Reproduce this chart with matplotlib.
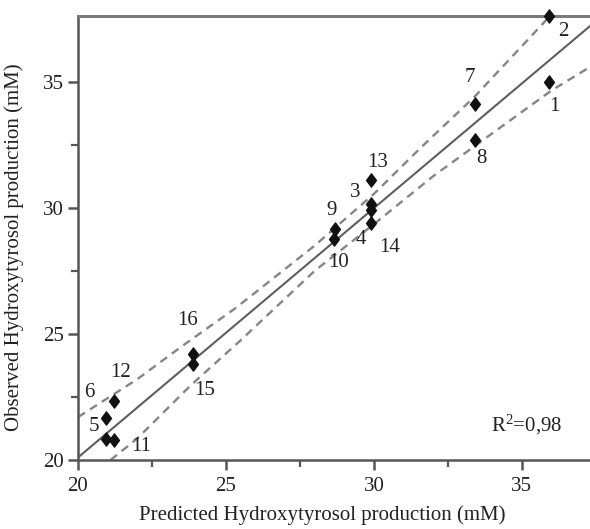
import numpy as np
import matplotlib
matplotlib.use("Agg")
import matplotlib.pyplot as plt
from matplotlib.path import Path

plt.rcParams['font.family'] = ['Liberation Serif', 'DejaVu Serif']
plt.rcParams['mathtext.fontset'] = 'custom'
plt.rcParams['mathtext.rm'] = 'Liberation Serif'
plt.rcParams['mathtext.it'] = 'Liberation Serif:italic'

# experiments: predicted vs observed hydroxytyrosol (mM)
run_ids = [1, 2, 3, 4, 5, 6, 7, 8, 9, 10, 11, 12, 13, 14, 15, 16]
predicted = [35.9, 35.9, 29.9, 29.9, 20.95, 20.95, 33.4, 33.4, 28.7, 28.65,
             21.2, 21.2, 29.9, 29.9, 23.9, 23.9]
observed = [35.0, 37.6, 30.15, 29.9, 20.85, 21.65, 34.1, 32.7, 29.15, 28.75,
            20.8, 22.35, 31.1, 29.4, 23.8, 24.2]

# regression line and confidence bands
fit_x = [20.0, 37.4]
fit_y = [20.1, 37.3]
upper_x = [20.0, 22.0, 23.5, 25.3, 28.0, 30.0, 31.6, 33.4, 35.75, 36.0]
upper_y = [21.7, 23.2, 24.5, 26.0, 28.5, 30.55, 32.4, 34.4, 37.35, 37.7]
lower_x = [21.1, 22.0, 23.8, 25.5, 28.0, 30.0, 32.0, 34.0, 36.0, 37.4]
lower_y = [20.0, 20.85, 22.95, 24.75, 27.5, 29.35, 31.25, 32.95, 34.65, 35.65]

# label offsets in pixels (dx, dy), dy positive = up
label_offsets = {
    1: (6, -25), 2: (15, -16), 3: (-16, 11), 4: (-10, -29), 5: (-12, 12),
    6: (-17, 26), 7: (-5, 27), 8: (7, -19), 9: (-4, 19), 10: (5, -23),
    11: (28, -7), 12: (7, 28), 13: (7, 17), 14: (19, -25), 15: (11, -26),
    16: (-6, 34),
}

fs = 15
fig = plt.figure(figsize=(5.9, 5.29), dpi=100)
ax = fig.add_axes([78 / 590, 69 / 529, 512 / 590, 444 / 529])

ax.plot(fit_x, fit_y, color='#5e5e5e', lw=1.5, zorder=2)
ax.plot(upper_x, upper_y, color='#858585', lw=1.7, ls=(0, (3.5, 2.5)), zorder=2)
ax.plot(lower_x, lower_y, color='#858585', lw=1.7, ls=(0, (3.5, 2.5)), zorder=2)

diamond = Path([(0, 1), (0.75, 0), (0, -1), (-0.75, 0), (0, 1)],
               [Path.MOVETO, Path.LINETO, Path.LINETO, Path.LINETO, Path.CLOSEPOLY])
ax.plot(predicted, observed, ls='none', marker=diamond, ms=9.5,
        color='#111111', zorder=3, clip_on=False)

for rid, px, py in zip(run_ids, predicted, observed):
    dx, dy = label_offsets[rid]
    ax.annotate(str(rid), (px, py), xytext=(dx, dy), textcoords='offset pixels',
                ha='center', va='center', fontsize=fs, color='#222222')

ax.text(0.877, 0.079, r'R$^{2}$=0,98', transform=ax.transAxes,
        ha='center', va='center', fontsize=fs, color='#222222')

ax.set_xlim(20, 37.3)
ax.set_ylim(20, 37.6)
ax.set_xticks([20, 25, 30, 35])
ax.set_yticks([20, 25, 30, 35])
ax.set_xticks([22.5, 27.5, 32.5], minor=True)
ax.set_yticks([22.5, 27.5, 32.5], minor=True)

ax.spines['right'].set_visible(False)
for side in ['left', 'bottom']:
    ax.spines[side].set_color('#555555')
    ax.spines[side].set_linewidth(1.8)
ax.spines['top'].set_color('#7a7a7a')
ax.spines['top'].set_linewidth(2.2)

ax.tick_params(which='major', direction='out', length=7, width=1.8,
               color='#555555', labelsize=fs, labelcolor='#222222')
ax.tick_params(which='minor', direction='out', length=5, width=1.6,
               color='#555555')
ax.tick_params(axis='x', which='major', pad=5)
ax.tick_params(axis='y', which='major', pad=3)

ax.set_xlabel('Predicted Hydroxytyrosol production (mM)', fontsize=fs,
              color='#222222')
ax.set_ylabel('Observed Hydroxytyrosol production (mM)', fontsize=fs,
              color='#222222')
ax.xaxis.set_label_coords(0.478, -0.102)
ax.yaxis.set_label_coords(-0.105, 0.48)

fig.savefig('out.png', dpi=100)
